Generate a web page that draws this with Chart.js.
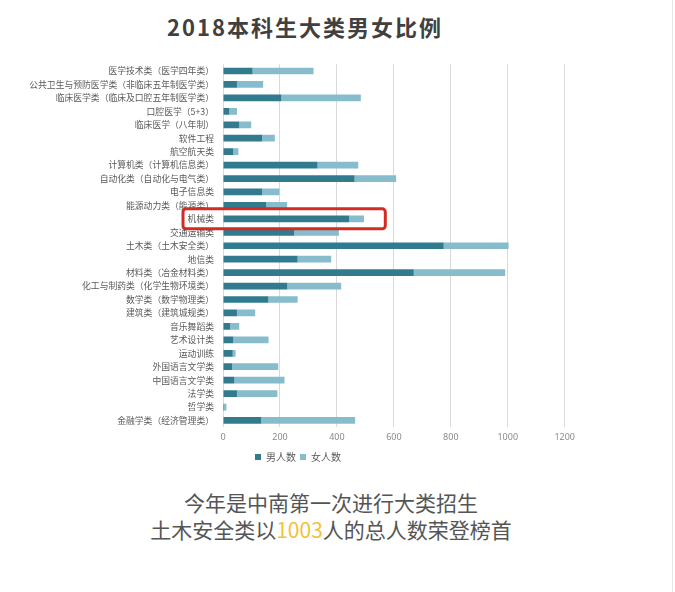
<!DOCTYPE html>
<html>
<head>
<meta charset="utf-8">
<script src="https://cdn.jsdelivr.net/npm/chart.js@4.4.0/dist/chart.umd.min.js"></script>
<style>
  html, body { margin:0; padding:0; background:#ffffff; }
  body { width:675px; height:592px; position:relative; overflow:hidden; font-family:"Noto Sans CJK SC","Noto Sans",sans-serif; }
  #title { position:absolute; left:0; width:610px; top:10px; text-align:center; font-size:22px; font-weight:bold; color:#404040; letter-spacing:2px; line-height:32px; }
  #wrap { position:absolute; left:20px; top:50px; width:560px; height:422px; }
  #note { position:absolute; left:0; width:662px; top:489px; text-align:center; font-size:21px; color:#555555; line-height:27px; }
  #note .hl { color:#f2c23a; }
  #edge { position:absolute; left:672px; top:0; width:1px; height:592px; background:#e6e6e6; }
</style>
</head>
<body>
<div id="title">2018本科生大类男女比例</div>
<div id="wrap"><canvas id="c"></canvas></div>
<div id="note">今年是中南第一次进行大类招生<br>土木安全类以<span class="hl">1003</span>人的总人数荣登榜首</div>
<div id="edge"></div>
<script>
const categories = [
  "医学技术类（医学四年类）",
  "公共卫生与预防医学类（非临床五年制医学类）",
  "临床医学类（临床及口腔五年制医学类）",
  "口腔医学（5+3）",
  "临床医学（八年制）",
  "软件工程",
  "航空航天类",
  "计算机类（计算机信息类）",
  "自动化类（自动化与电气类）",
  "电子信息类",
  "能源动力类（能源类）",
  "机械类",
  "交通运输类",
  "土木类（土木安全类）",
  "地信类",
  "材料类（冶金材料类）",
  "化工与制药类（化学生物环境类）",
  "数学类（数学物理类）",
  "建筑类（建筑城规类）",
  "音乐舞蹈类",
  "艺术设计类",
  "运动训练",
  "外国语言文学类",
  "中国语言文学类",
  "法学类",
  "哲学类",
  "金融学类（经济管理类）"
];
const maleCounts = [104, 49, 205, 22, 57, 137, 36, 332, 462, 137, 152, 443, 250, 775, 262, 670, 226, 159, 49, 25, 36, 34, 32, 40, 49, 4, 134];
const femaleCounts = [214, 92, 279, 27, 42, 45, 18, 143, 146, 61, 73, 52, 157, 228, 118, 321, 189, 103, 64, 32, 124, 10, 162, 176, 142, 8, 330];
const seriesNames = ["男人数", "女人数"];
const xTicks = [0, 200, 400, 600, 800, 1000, 1200];
const highlighted = "机械类";

const highlightBox = {
  id: 'highlightBox',
  afterDraw(chart) {
    const ys = chart.scales.y, xs = chart.scales.x, ctx = chart.ctx;
    const idx = categories.indexOf(highlighted);
    const cy = ys.getPixelForValue(idx);
    const left = chart.chartArea.left - 40;
    const right = xs.getPixelForValue(570);
    const top = cy - 10, h = 20;
    ctx.save();
    ctx.strokeStyle = '#d42b23';
    ctx.lineWidth = 3;
    ctx.beginPath();
    if (ctx.roundRect) ctx.roundRect(left, top, right - left, h, 3); else ctx.rect(left, top, right - left, h);
    ctx.stroke();
    ctx.restore();
  }
};

new Chart(document.getElementById('c'), {
  type: 'bar',
  data: {
    labels: categories,
    datasets: [
      { label: seriesNames[0], data: maleCounts, backgroundColor: '#327b8f', barPercentage: 0.5, categoryPercentage: 1 },
      { label: seriesNames[1], data: femaleCounts, backgroundColor: '#86bccb', barPercentage: 0.5, categoryPercentage: 1 }
    ]
  },
  options: {
    indexAxis: 'y',
    responsive: true,
    maintainAspectRatio: false,
    animation: false,
    layout: { padding: { top: 7, right: 4, left: 0, bottom: 0 } },
    scales: {
      x: {
        stacked: true, min: 0, max: 1200,
        afterBuildTicks(axis) { axis.ticks = xTicks.map(v => ({ value: v })); },
        grid: { color: '#d9d9d9', drawTicks: false },
        border: { display: false },
        ticks: { color: '#8a8a8a', font: { size: 9, family: '"Noto Sans","Noto Sans CJK SC",sans-serif' }, padding: 5,
                 callback: (v) => String(v) }
      },
      y: {
        stacked: true,
        afterFit(axis) { axis.width = 203; },
        grid: { display: false, drawTicks: false },
        border: { display: false },
        ticks: { color: '#595959', font: { size: 8.8, family: '"Noto Sans CJK SC",sans-serif' }, padding: 9, autoSkip: false }
      }
    },
    plugins: {
      legend: {
        position: 'bottom',
        labels: { boxWidth: 6, boxHeight: 6, color: '#595959', font: { size: 10, family: '"Noto Sans CJK SC",sans-serif' }, padding: 4 }
      },
      tooltip: { enabled: false }
    }
  },
  plugins: [highlightBox]
});
</script>
</body>
</html>
